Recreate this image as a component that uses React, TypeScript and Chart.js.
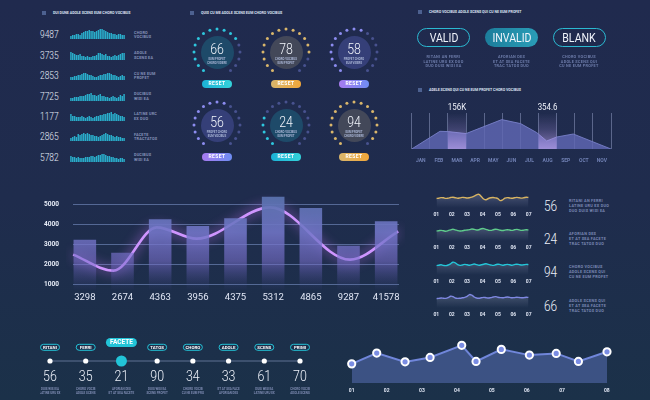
import React, { useEffect, useRef } from "react";
import { Chart, registerables } from "chart.js";
Chart.register(...registerables);

const SANS = 'Roboto, "Noto Sans", sans-serif';

// ---------------- data ----------------
const sparkTotals = [9487, 3735, 2853, 7725, 1177, 2865, 5782];
const sparkCaptions = [
  ["CHORO", "VOCIBUS"],
  ["ADOLE", "SCENS EA"],
  ["CU NE EUM", "PROFET"],
  ["DUCIBUS", "WISI EA"],
  ["LATINE URC", "EX DUO"],
  ["FACETE", "TRACTATOS"],
  ["DUCIBUS", "WISI EA"],
];
const spark1 = [3, 4, 4, 5, 5, 4, 6, 7, 8, 8, 9, 8, 8, 7, 8, 9, 10, 10, 9, 8, 7, 6, 6, 5, 5, 4, 5, 5, 4, 4];
const spark2 = [8, 7, 6, 5, 5, 6, 4, 4, 3, 4, 3, 3, 4, 4, 5, 7, 7, 6, 5, 6, 4, 4, 3, 4, 5, 4, 5, 6, 7, 7];
const spark3 = [3, 3, 4, 4, 5, 5, 6, 7, 7, 6, 5, 5, 4, 3, 3, 4, 5, 5, 6, 6, 7, 7, 6, 5, 5, 4, 3, 4, 5, 4];
const spark4 = [3, 3, 4, 4, 4, 5, 5, 5, 6, 7, 7, 8, 6, 6, 5, 6, 7, 5, 5, 4, 4, 3, 4, 5, 4, 3, 4, 6, 5, 7];
const spark5 = [7, 5, 5, 4, 4, 4, 5, 4, 3, 4, 5, 4, 3, 4, 5, 5, 6, 6, 7, 7, 8, 8, 9, 7, 8, 7, 6, 5, 5, 4];
const spark6 = [3, 4, 5, 4, 7, 6, 7, 8, 7, 8, 7, 6, 6, 5, 5, 4, 5, 6, 7, 8, 7, 6, 6, 5, 4, 5, 4, 4, 3, 3];
const spark7 = [6, 5, 5, 4, 5, 4, 4, 4, 5, 5, 5, 6, 6, 5, 6, 7, 7, 8, 8, 7, 6, 6, 5, 5, 4, 4, 3, 4, 4, 3];
const sparkSeries = [spark1, spark2, spark3, spark4, spark5, spark6, spark7];

const gaugeValues = [66, 78, 58, 56, 24, 94];
const gaugeCaptions = [
  ["EUM PROFET", "CHORO VIDERE"],
  ["CHORO VOCIBUS", "EUM PROFET"],
  ["PROFET CHORO", "EUM VIDERE"],
  ["PROFET CHORO", "EUM VOCIBUS"],
  ["CHORO VOCIBUS", "EUM PROFET"],
  ["EUM PROFET", "CHORO VIDERE"],
];

const statusLabels = ["VALID", "INVALID", "BLANK"];
const statusCaptions = [
  ["RITANI AN FERRI", "LATINE URU EX DUO", "DUO DUIS WISI EA"],
  ["AFORIAN DES", "ET AT SEA FACETE", "TRAC TATOS DUO"],
  ["CHORO VOCIBUS", "ADOLE SCENS QUI", "CU NE EUM PROFET"],
];

const months = ["JAN", "FEB", "MAR", "APR", "MAY", "JUN", "JUL", "AUG", "SEP", "OCT", "NOV"];
const areaX = [0, 1.56, 2.02, 3.0, 4.97, 6.01, 6.9, 7.45, 8.0, 8.92, 11];
const areaY = [0, 17.7, 17.4, 15.4, 29.4, 25.4, 16.4, 8, 12, 15, 0];
const bandMonths = ["MAR", "AUG"];
const bandLabels = ["156K", "354.6"];

const mainCategories = ["3298", "2674", "4363", "3956", "4375", "5312", "4865", "9287", "41578"];
const mainBars = [3217, 2567, 4233, 3900, 4283, 5367, 4800, 2917, 4133];
const mainLineX = [-0.31, 0.76, 1.91, 2.97, 4.92, 7.04, 8.32];
const mainLineY = [2467, 1667, 3833, 3267, 4833, 2217, 3633];
const mainYTicks = [1000, 2000, 3000, 4000, 5000];

const waveTickLabels = ["01", "02", "03", "04", "05", "06", "07"];
const waveTickPos = [0, 6.5, 13, 19.5, 26, 32.5, 39];
const waveGold = [9.5, 9.8, 10.4, 10.2, 9.6, 9.9, 10.5, 10.8, 10.3, 9.8, 10.1, 10.6, 10.4, 10, 10.3, 10.9, 11.8, 13.2, 13.6, 11.5, 9, 8.2, 9.5, 10.3, 10.5, 10.1, 9.4, 7.4, 8.2, 9.8, 10.4, 10, 9.7, 10.2, 10.6, 10.3, 9.9, 10.3, 10.7, 10.5];
const waveGreen = [10, 10.3, 10.6, 10.2, 9.8, 10.4, 11.2, 11.8, 11.2, 10.4, 10, 10.3, 10.8, 11, 11.4, 12, 11.6, 11, 11.3, 12.2, 12.4, 11.6, 10.8, 10.6, 11.2, 11.8, 11.4, 10.8, 10.5, 10.9, 11.3, 11, 10.6, 11.2, 11.6, 11.1, 10.6, 10.9, 11.3, 11];
const waveCyan = [9.4, 9.8, 10.2, 9.6, 9.4, 10, 11.2, 12.8, 12.2, 10.4, 9.6, 10, 10.6, 10.2, 9.8, 10.4, 11, 10.4, 9.8, 10.2, 10.8, 11.2, 10.6, 10, 9.6, 10.2, 10.8, 10.4, 9.8, 10.2, 10.6, 10.2, 9.8, 10.4, 10.8, 10.4, 10, 10.3, 10.6, 10.4];
const wavePurple = [9.4, 9.6, 10, 9.8, 9.6, 10.4, 11.8, 11.4, 10, 9.6, 9.8, 10.2, 10.6, 11.6, 13.4, 12.8, 11, 10, 9.8, 10.2, 10.6, 10.3, 10, 10.4, 11, 11.4, 10.8, 10.4, 10.2, 10.6, 11, 10.6, 10.2, 10.4, 10.8, 10.5, 10.2, 10.4, 10.7, 10.6];
const waveSeries = [waveGold, waveGreen, waveCyan, wavePurple];
const waveColors = ["#d7b362", "#5fcb8c", "#24c6d8", "#7f88e2"];
const waveNumbers = [56, 24, 94, 66];
const waveCaptions = [
  ["RITANI AN FERRI", "LATINE URU EX DUO", "DUO DUIS WISI EA"],
  ["AFORIAN DES", "ET AT SEA FACETE", "TRAC TATOS DUO"],
  ["CHORO VOCIBUS", "ADOLE SCENS QUI", "CU NE EUM PROFET"],
  ["ADOLE SCENS QUI", "ET AT SEA FACETE", "TRAC TATOS DUO"],
];

const stepNames = ["RITANI", "FERRI", "FACETE", "TATOS", "CHORO", "ADOLE", "SCENS", "PRIMI"];
const stepValues = [56, 35, 21, 90, 34, 33, 61, 70];
const stepActive = "FACETE";
const stepCaptions = [
  ["DUIS WISI EA", "LATINE URU EX"],
  ["CHORO VOCIB", "ADOLE SCENS"],
  ["AFORIAN DES", "ET AT SEA FACETE"],
  ["DUIS WISI EA", "SCENS PROFET"],
  ["CHORO VOCIB", "CU NE EUM PRO"],
  ["ET AT SEA FACE", "AFORIAN DES"],
  ["DUIS WISI EA", "LATINE URU EX"],
  ["CHORO VOCIB", "ADOLE SCENS"],
];

const trendX = [0, 9.8, 20.9, 30.7, 43.1, 48.7, 58.6, 69.6, 80.1, 88.8, 100];
const trendY = [19, 29.7, 21, 25.4, 37.4, 21.4, 33.4, 27.7, 29.4, 21.4, 31];
const trendTickPos = [0, 13.7, 27.5, 41.2, 54.9, 68.6, 82.4, 99.9];
const trendTickLabels = ["01", "02", "03", "04", "05", "06", "07", "08"];

// ---------------- helpers ----------------
const noPlugins = { legend: { display: false }, tooltip: { enabled: false } };

function ChartCanvas({ x, y, w, h, make }: any) {
  const ref = useRef<HTMLCanvasElement>(null);
  useEffect(() => {
    const chart = new Chart(ref.current as HTMLCanvasElement, make());
    return () => chart.destroy();
  }, []);
  return (
    <div style={{ position: "absolute", left: x, top: y, width: w, height: h }}>
      <canvas ref={ref} width={w} height={h} style={{ display: "block" }} />
    </div>
  );
}

function Txt({ x, y, size, color, children, weight, align, ls, sx }: any) {
  const tx = align === "center" ? "-50%" : align === "right" ? "-100%" : "0";
  const origin = align === "center" ? "center center" : align === "right" ? "right center" : "left center";
  return (
    <div
      style={{
        position: "absolute",
        left: x,
        top: y,
        transform: `translate(${tx}, -50%) scaleX(${sx || 1})`,
        transformOrigin: origin,
        fontSize: size,
        lineHeight: 1,
        color,
        fontWeight: weight || 400,
        fontFamily: SANS,
        whiteSpace: "nowrap",
        letterSpacing: ls || 0,
      }}
    >
      {children}
    </div>
  );
}

function Header({ x, y, text }: any) {
  return (
    <>
      <div style={{ position: "absolute", left: x, top: y - 2, width: 4, height: 4, background: "#4d6190" }} />
      <Txt x={x + 11} y={y} size={3.9} color="#dde3f2" weight={700} sx={0.92}>
        {text}
      </Txt>
    </>
  );
}

function condensedText(ctx: any, text: string, x: number, y: number, sx: number) {
  ctx.save();
  ctx.translate(x, y);
  ctx.scale(sx, 1);
  ctx.fillText(text, 0, 0);
  ctx.restore();
}

// ---------------- configs ----------------
function sparkConfig(vals: number[]) {
  return {
    type: "bar",
    data: {
      labels: vals.map((_, i) => String(i)),
      datasets: [{ data: vals, backgroundColor: "#2aaecb", barPercentage: 0.8, categoryPercentage: 1 }],
    },
    options: {
      responsive: false,
      animation: false,
      events: [],
      plugins: noPlugins,
      scales: { x: { display: false }, y: { display: false, min: 0, max: 12 } },
    },
  };
}

const gaugePalettes: any = {
  cyan: { dot: "#2ec6dd", inner: "#1e4a69", btn: "linear-gradient(90deg,#1cb2d6,#34d2da)" },
  gold: { dot: "#d9b66b", inner: "#434859", btn: "linear-gradient(90deg,#d8b56c,#f2a73a)" },
  purple: { dot: "#8c8cf0", inner: "#353f78", btn: "linear-gradient(90deg,#a77bf0,#6e8df3)" },
};
const gaugeKinds = ["cyan", "gold", "purple", "purple", "cyan", "gold"];
const SLOTS = 20;
const GAP = [9, 10, 11];

function gaugeConfig(value: number, kind: string) {
  const active = SLOTS - GAP.length;
  const k = Math.ceil((value / 100) * active);
  const data: any[] = [];
  const colors: string[] = [];
  for (let s = 0; s < SLOTS; s++) {
    const gap = GAP.includes(s);
    data.push(gap ? null : 1);
    const pos = s >= 12 ? s - 12 : s + 8;
    colors.push(pos < k ? gaugePalettes[kind].dot : "#48528f");
  }
  return {
    type: "radar",
    data: {
      labels: data.map(() => ""),
      datasets: [
        {
          data,
          showLine: false,
          borderWidth: 0,
          fill: false,
          pointRadius: 1.5,
          pointBorderWidth: 0,
          pointBackgroundColor: colors,
        },
      ],
    },
    options: {
      responsive: false,
      animation: false,
      events: [],
      plugins: noPlugins,
      layout: { padding: 2.5 },
      scales: { r: { display: false, min: 0, max: 1 } },
    },
  };
}

function mainConfig() {
  const grid = {
    id: "mainGrid",
    beforeDatasetsDraw(chart: any) {
      const { ctx, chartArea, scales } = chart;
      ctx.save();
      ctx.strokeStyle = "rgba(130,155,210,0.55)";
      ctx.lineWidth = 1;
      for (const v of mainYTicks) {
        const py = Math.round(scales.y.getPixelForValue(v)) + 0.5;
        ctx.beginPath();
        ctx.moveTo(chartArea.left + 7, py);
        ctx.lineTo(chartArea.right - 6, py);
        ctx.stroke();
      }
      ctx.restore();
    },
  };
  const glow = {
    id: "glow",
    beforeDatasetDraw(chart: any, args: any) {
      if (args.index === 1) {
        chart.ctx.save();
        chart.ctx.shadowColor = "rgba(205,120,255,1)";
        chart.ctx.shadowBlur = 12;
      }
    },
    afterDatasetDraw(chart: any, args: any) {
      if (args.index === 1) chart.ctx.restore();
    },
  };
  return {
    type: "bar",
    data: {
      labels: mainCategories,
      datasets: [
        {
          type: "bar",
          data: mainBars,
          grouped: false,
          stack: "one",
          barPercentage: 0.6,
          categoryPercentage: 1,
          backgroundColor: (c: any) => {
            const a = c.chart.chartArea;
            if (!a) return "rgba(100,120,190,0.6)";
            const g = c.chart.ctx.createLinearGradient(0, a.top, 0, a.bottom);
            g.addColorStop(0, "rgba(88,114,172,0.95)");
            g.addColorStop(0.4, "rgba(114,118,200,0.88)");
            g.addColorStop(0.7, "rgba(122,112,205,0.58)");
            g.addColorStop(1, "rgba(80,80,160,0.02)");
            return g;
          },
        },
        {
          type: "line",
          xAxisID: "x2",
          stack: "one",
          data: mainLineX.map((x, i) => ({ x, y: mainLineY[i] })),
          borderColor: "#cf95ff",
          borderWidth: 2.6,
          pointRadius: 0,
          fill: false,
          cubicInterpolationMode: "monotone",
        },
      ],
    },
    options: {
      responsive: false,
      animation: false,
      events: [],
      plugins: noPlugins,
      layout: { padding: { top: 4, left: 0, right: 0, bottom: 0 } },
      scales: {
        x: {
          offset: true,
          grid: { display: false, drawTicks: false },
          border: { display: false },
          ticks: { color: "#e1e7f5", font: { family: SANS, size: 9.5 }, padding: 2, maxRotation: 0, autoSkip: false },
          afterFit: (s: any) => {
            s.height = 16;
            s.paddingLeft = 0;
            s.paddingRight = 0;
          },
        },
        x2: { type: "linear", display: false, offset: false, min: -0.5, max: 8.5, grid: { offset: false } },
        y: {
          min: 700,
          max: 5500,
          afterBuildTicks: (s: any) => {
            s.ticks = mainYTicks.map((v) => ({ value: v }));
          },
          afterFit: (s: any) => {
            s.width = 36;
            s.paddingTop = 0;
            s.paddingBottom = 0;
          },
          grid: { display: false, drawTicks: false },
          border: { display: false },
          ticks: {
            callback: (v: any) => String(v),
            color: "#e8edf8",
            font: { family: SANS, size: 6.5, weight: "bold" },
            padding: 7,
          },
        },
      },
    },
    plugins: [grid, glow],
  };
}

function areaConfig() {
  const bands = {
    id: "bands",
    afterDatasetsDraw(chart: any) {
      const { ctx, chartArea, scales } = chart;
      const xs = scales.x;
      const w = (chartArea.right - chartArea.left) / months.length;
      ctx.save();
      bandMonths.forEach((m, i) => {
        const idx = months.indexOf(m);
        const cx = xs.getPixelForValue(idx);
        const g = ctx.createLinearGradient(0, chartArea.top, 0, chartArea.bottom);
        g.addColorStop(0, "rgba(190,160,245,0)");
        g.addColorStop(0.45, "rgba(190,160,245,0.2)");
        g.addColorStop(1, "rgba(205,175,250,0.6)");
        ctx.fillStyle = g;
        ctx.fillRect(cx - w / 2, chartArea.top, w, chartArea.bottom - chartArea.top);
        ctx.fillStyle = "#eef1f9";
        ctx.font = `9px ${SANS}`;
        ctx.textAlign = "center";
        ctx.textBaseline = "middle";
        condensedText(ctx, bandLabels[i], cx, chartArea.top - 5.5, 0.88);
      });
      ctx.restore();
    },
  };
  return {
    type: "line",
    data: {
      labels: months,
      datasets: [
        {
          xAxisID: "x2",
          data: areaX.map((x, i) => ({ x, y: areaY[i] })),
          fill: "origin",
          backgroundColor: "rgba(96,104,180,0.82)",
          borderColor: "rgba(120,128,200,0.9)",
          borderWidth: 1,
          pointRadius: 0,
          tension: 0,
        },
      ],
    },
    options: {
      responsive: false,
      animation: false,
      events: [],
      plugins: noPlugins,
      layout: { padding: { left: 6.7, right: 9, top: 12, bottom: 0 } },
      scales: {
        x: {
          type: "category",
          labels: months,
          offset: true,
          grid: { offset: true, color: "rgba(165,175,215,0.45)", drawTicks: false, lineWidth: 1 },
          border: { display: false },
          ticks: { color: "#7080b4", font: { family: SANS, size: 5, weight: "bold" }, padding: 9, maxRotation: 0, autoSkip: false },
          afterFit: (s: any) => {
            s.height = 15;
          },
        },
        x2: { type: "linear", display: false, offset: false, min: 0, max: 11 },
        y: { display: false, min: 0, max: 36 },
      },
    },
    plugins: [bands],
  };
}

function waveConfig(vals: number[], color: string) {
  return {
    type: "line",
    data: {
      datasets: [
        {
          data: vals.map((v, i) => ({ x: i, y: v })),
          fill: "origin",
          backgroundColor: (c: any) => {
            const a = c.chart.chartArea;
            if (!a) return "rgba(0,0,0,0)";
            const g = c.chart.ctx.createLinearGradient(0, a.top, 0, a.bottom);
            g.addColorStop(0, "rgba(150,160,190,0.45)");
            g.addColorStop(1, "rgba(150,160,190,0.0)");
            return g;
          },
          borderColor: color,
          borderWidth: 1.4,
          pointRadius: 0,
          tension: 0.4,
        },
      ],
    },
    options: {
      responsive: false,
      animation: false,
      events: [],
      plugins: noPlugins,
      layout: { padding: { left: 5, right: 5, top: 2, bottom: 0 } },
      scales: {
        x: {
          type: "linear",
          min: 0,
          max: vals.length - 1,
          afterBuildTicks: (s: any) => {
            s.ticks = waveTickPos.map((v) => ({ value: v }));
          },
          afterFit: (s: any) => {
            s.height = 10;
          },
          grid: { display: false, drawTicks: false },
          border: { display: false },
          ticks: {
            callback: (_v: any, i: number) => waveTickLabels[i],
            color: "#dfe5f3",
            font: { family: SANS, size: 5, weight: "bold" },
            padding: 3.5,
            maxRotation: 0,
            autoSkip: false,
          },
        },
        y: { display: false, min: 0, max: 18 },
      },
    },
  };
}

function stepConfig() {
  const activeIdx = stepNames.indexOf(stepActive);
  const deco = {
    id: "deco",
    afterDraw(chart: any) {
      const { ctx, chartArea, scales } = chart;
      ctx.save();
      ctx.textAlign = "center";
      ctx.textBaseline = "middle";
      stepNames.forEach((name, i) => {
        const px = scales.x.getPixelForValue(i);
        const active = i === activeIdx;
        const pw = active ? 31 : 19;
        const ph = active ? 9 : 6;
        const py = active ? chartArea.top - 13.5 : chartArea.top - 8.7;
        ctx.beginPath();
        (ctx as any).roundRect(px - pw / 2, py - ph / 2, pw, ph, ph / 2);
        if (active) {
          ctx.fillStyle = "#22c4d8";
          ctx.fill();
        } else {
          ctx.fillStyle = "#1c2d49";
          ctx.fill();
          ctx.strokeStyle = "#24c3d7";
          ctx.lineWidth = 1;
          ctx.stroke();
        }
        ctx.fillStyle = "#ffffff";
        ctx.font = `bold ${active ? 6.5 : 4.4}px ${SANS}`;
        ctx.fillText(name, px, py + 0.3);
        ctx.fillStyle = "#eef2fa";
        ctx.font = `300 15.5px ${SANS}`;
        condensedText(ctx, String(stepValues[i]), px, chartArea.top + 21, 0.8);
        ctx.fillStyle = "#7e8bb2";
        ctx.font = `bold 3px ${SANS}`;
        ctx.fillText(stepCaptions[i][0], px, chartArea.top + 33.5);
        ctx.fillText(stepCaptions[i][1], px, chartArea.top + 37);
      });
      ctx.restore();
    },
  };
  return {
    type: "line",
    data: {
      labels: stepNames,
      datasets: [
        {
          data: stepNames.map(() => 0.5),
          borderColor: "rgba(150,170,210,0.55)",
          borderWidth: 1,
          pointRadius: stepNames.map((_, i) => (i === activeIdx ? 5.5 : 2.6)),
          pointBackgroundColor: stepNames.map((_, i) => (i === activeIdx ? "#22c4d8" : "#ffffff")),
          pointBorderWidth: 0,
          clip: false,
        },
      ],
    },
    options: {
      responsive: false,
      animation: false,
      events: [],
      plugins: noPlugins,
      layout: { padding: { left: 10, right: 10, top: 20, bottom: 34 } },
      scales: { x: { display: false }, y: { display: false, min: 0, max: 1 } },
    },
    plugins: [deco],
  };
}

function trendConfig() {
  return {
    type: "line",
    data: {
      datasets: [
        {
          data: trendX.map((x, i) => ({ x, y: trendY[i] })),
          fill: "origin",
          backgroundColor: "rgba(62,84,135,0.95)",
          borderColor: "#7086da",
          borderWidth: 2,
          pointRadius: 3.6,
          pointBackgroundColor: "#7b8de3",
          pointBorderColor: "#ffffff",
          pointBorderWidth: 2,
          tension: 0,
          clip: false,
        },
      ],
    },
    options: {
      responsive: false,
      animation: false,
      events: [],
      plugins: noPlugins,
      layout: { padding: { left: 11.7, right: 10, top: 7.7, bottom: 0 } },
      scales: {
        x: {
          type: "linear",
          min: 0,
          max: 100,
          afterBuildTicks: (s: any) => {
            s.ticks = trendTickPos.map((v) => ({ value: v }));
          },
          afterFit: (s: any) => {
            s.height = 11;
          },
          grid: { display: false, drawTicks: false },
          border: { display: false },
          ticks: {
            callback: (_v: any, i: number) => trendTickLabels[i],
            color: "#dfe5f3",
            font: { family: SANS, size: 5, weight: "bold" },
            padding: 5,
            maxRotation: 0,
            autoSkip: false,
          },
        },
        y: { display: false, min: 0, max: 45 },
      },
    },
  };
}

// ---------------- app ----------------
const gaugeCenters = [
  [217, 52],
  [286, 52],
  [354, 52],
  [217, 125],
  [286, 125],
  [354, 125],
];

export default function App() {
  const sparkBase = (i: number) => 39.3 + i * 20.4;
  const statusX = [443.5, 511.5, 579];
  const innerR = 16.5;
  return (
    <div
      style={{
        position: "fixed",
        left: 0,
        top: 0,
        width: 650,
        height: 400,
        overflow: "hidden",
        background: "linear-gradient(180deg, #202a4e 0%, #1f2c4d 50%, #1b3149 100%)",
        fontFamily: SANS,
      }}
    >
      <Header x={42} y={13} text="DUI DUNE ADOLE SCENS EUM CHORO VOCIBUS" />
      <Header x={190} y={13} text="QUIS CU ME ADOLE SCENS EUM CHORO VOCIBUS" />
      <Header x={418} y={12} text="CHORO VOCIBUS ADOLE SCENS QUI CU NE EUM PROFET" />
      <Header x={418} y={90} text="ADELE SCENS QUI CU NE EUM PROFET CHORO VOCIBUS" />

      {sparkSeries.map((vals, i) => (
        <React.Fragment key={"s" + i}>
          <Txt x={40} y={sparkBase(i) - 4} size={10.5} color="#e6ebf7" weight={300} sx={0.8}>
            {sparkTotals[i]}
          </Txt>
          <ChartCanvas x={70} y={sparkBase(i) - 12} w={55} h={12} make={() => sparkConfig(vals)} />
          <Txt x={134} y={sparkBase(i) - 6.6} size={3.8} color="#8592b8" weight={700} ls={0.2}>
            {sparkCaptions[i][0]}
          </Txt>
          <Txt x={134} y={sparkBase(i) - 2} size={3.8} color="#8592b8" weight={700} ls={0.2}>
            {sparkCaptions[i][1]}
          </Txt>
        </React.Fragment>
      ))}

      {gaugeValues.map((v, i) => {
        const [cx, cy] = gaugeCenters[i];
        const pal = gaugePalettes[gaugeKinds[i]];
        return (
          <React.Fragment key={"g" + i}>
            <div
              style={{
                position: "absolute",
                left: cx - innerR,
                top: cy - innerR,
                width: innerR * 2,
                height: innerR * 2,
                borderRadius: "50%",
                background: pal.inner,
              }}
            />
            <ChartCanvas x={cx - 26} y={cy - 26} w={52} h={52} make={() => gaugeConfig(v, gaugeKinds[i])} />
            <Txt x={cx} y={cy - 3.5} size={15} color="#f2f5fb" weight={300} align="center" sx={0.82}>
              {v}
            </Txt>
            <Txt x={cx} y={cy + 7.3} size={2.8} color="#aab6d6" weight={700} align="center">
              {gaugeCaptions[i][0]}
            </Txt>
            <Txt x={cx} y={cy + 10.6} size={2.8} color="#aab6d6" weight={700} align="center">
              {gaugeCaptions[i][1]}
            </Txt>
            <div
              style={{
                position: "absolute",
                left: cx - 15,
                top: cy + 28.3,
                width: 30,
                height: 7.5,
                borderRadius: 4,
                background: pal.btn,
                color: "#fff",
                fontSize: 5,
                fontWeight: 700,
                lineHeight: "7.5px",
                textAlign: "center",
                letterSpacing: 0.4,
              }}
            >
              RESET
            </div>
          </React.Fragment>
        );
      })}

      {statusLabels.map((s, i) => (
        <React.Fragment key={"st" + i}>
          <div
            style={{
              position: "absolute",
              left: statusX[i] - 26.5,
              top: 28,
              width: 53,
              height: 19,
              boxSizing: "border-box",
              borderRadius: 10,
              border: i === 1 ? "none" : "1.5px solid #2bb9d1",
              background: i === 1 ? "linear-gradient(90deg,#1c7d9b,#2a9db7)" : "transparent",
            }}
          />
          <Txt x={statusX[i]} y={37.7} size={12} color="#f0f4fb" align="center" sx={0.88}>
            {s}
          </Txt>
          {statusCaptions[i].map((t, j) => (
            <Txt key={j} x={statusX[i]} y={56.7 + j * 4.8} size={3.8} color="#6d7caa" weight={700} align="center" ls={0.3}>
              {t}
            </Txt>
          ))}
        </React.Fragment>
      ))}

      <ChartCanvas x={405} y={101} w={215} h={63} make={areaConfig} />

      <ChartCanvas x={30} y={190} w={375} h={116} make={mainConfig} />

      {waveSeries.map((vals, i) => {
        const top = 188 + i * 33.3;
        return (
          <React.Fragment key={"w" + i}>
            <ChartCanvas x={430} y={top} w={105} h={30} make={() => waveConfig(vals, waveColors[i])} />
            <Txt x={544} y={top + 17.7} size={14} color="#eef2fa" weight={300} sx={0.85}>
              {waveNumbers[i]}
            </Txt>
            {waveCaptions[i].map((t, j) => (
              <Txt key={j} x={569} y={top + 12.7 + j * 5} size={3.8} color="#7b89b4" weight={700} ls={0.3}>
                {t}
              </Txt>
            ))}
          </React.Fragment>
        );
      })}

      <ChartCanvas x={40} y={336} w={270} h={64} make={stepConfig} />
      <ChartCanvas x={340} y={330} w={277} h={64} make={trendConfig} />
    </div>
  );
}
